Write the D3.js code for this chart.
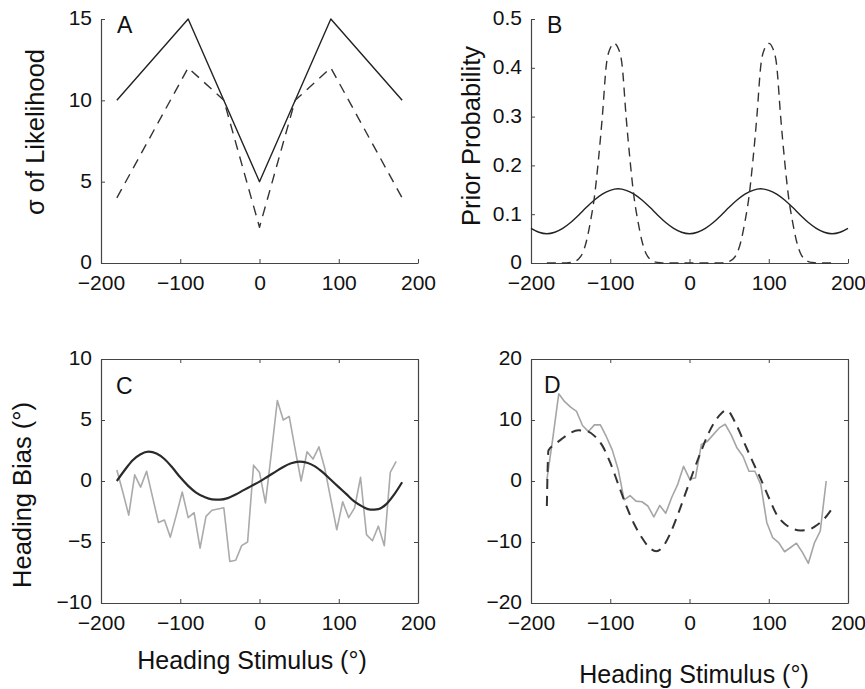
<!DOCTYPE html>
<html>
<head>
<meta charset="UTF-8">
<title>Heading bias figure</title>
<script src="https://cdn.jsdelivr.net/npm/d3@7"></script>
<style>
  body { margin: 0; background: #fff; }
  text { font-family: "Liberation Sans", Arial, sans-serif; fill: #111; }
</style>
</head>
<body>
<script>
// ---- panel A: sigma of likelihood
var aX = [-180, -90, 0, 90, 180];
var aSolid = [10, 15, 5, 15, 10];
var aDashX = [-180, -90, -45, 0, 45, 90, 180];
var aDash = [4, 12, 10, 2.2, 10, 12, 4];

// ---- panel B: prior probability
var bSolidX = d3.range(-200, 201, 10);
var bSolid = [0.071, 0.063, 0.060, 0.063, 0.071, 0.083, 0.098, 0.114, 0.129, 0.141, 0.149,
              0.152, 0.149, 0.141, 0.129, 0.114, 0.098, 0.083, 0.071, 0.063, 0.060,
              0.063, 0.071, 0.083, 0.098, 0.114, 0.129, 0.141, 0.149, 0.152, 0.149,
              0.141, 0.129, 0.114, 0.098, 0.083, 0.071, 0.063, 0.060, 0.063, 0.071];
var bDashX = d3.range(-180, 181, 5);
var bDash = [0, 0, 0, 0, 0, 0, 0.001, 0.003, 0.008, 0.02, 0.045, 0.085, 0.135, 0.21, 0.30, 0.405, 0.44,
             0.45,
             0.44, 0.405, 0.30, 0.21, 0.135, 0.085, 0.045, 0.02, 0.008, 0.003, 0.001, 0,
             0, 0, 0, 0, 0, 0, 0, 0, 0, 0, 0, 0, 0, 0,
             0, 0.001, 0.003, 0.008, 0.02, 0.045, 0.085, 0.135, 0.21, 0.30, 0.405, 0.44,
             0.45,
             0.44, 0.405, 0.30, 0.21, 0.135, 0.085, 0.045, 0.02, 0.008, 0.003, 0.001, 0, 0, 0, 0, 0, 0];

// ---- panel C: heading bias, data (gray) and model (dark)
var stimX = d3.range(-180, 173, 7.5);
var cData = [0.9, -0.9, -2.8, 0.5, -0.5, 0.8, -1.3, -3.4, -3.2, -4.6, -2.8, -0.9, -3.0, -2.6, -5.5, -2.9,
             -2.4, -2.3, -2.2, -6.6, -6.5, -5.3, -5.0, 1.3, 0.7, -1.8, 2.3, 6.6, 5.0, 5.3, 2.6, 0.0,
             2.4, 1.8, 2.8, 1.0, -1.5, -4.0, -1.7, -3.0, -2.2, 0.3, -4.4, -4.9, -3.7, -5.3, 0.7, 1.6];
var cModelX = d3.range(-180, 181, 10);
var cModel = [0, 0.9, 1.7, 2.2, 2.4, 2.25, 1.8, 1.1, 0.3, -0.4, -0.95, -1.3, -1.5, -1.52, -1.4, -1.1, -0.75, -0.4,
              -0.05, 0.35, 0.75, 1.15, 1.45, 1.58, 1.5, 1.2, 0.7, 0.1, -0.5, -1.1, -1.7, -2.1, -2.35, -2.3, -1.9, -1.1, -0.1];

// ---- panel D
var dData = [0.2, 7.0, 14.3, 13.0, 12.1, 11.4, 9.1, 8.1, 9.2, 9.2, 7.3, 5.1, 1.9, -3.1, -2.4, -3.3,
             -3.4, -4.1, -5.9, -4.0, -5.3, -2.7, -0.6, 2.4, 0.35, 0.5, 6.0, 6.5, 7.6, 8.7, 9.3, 7.6,
             5.4, 4.05, 1.6, 1.6, -0.6, -6.8, -9.3, -10.1, -11.6, -10.9, -10.2, -11.7, -13.5, -10.2, -8.2, 0];
var dModelX = [-180, -178, -170, -160, -150, -140, -130, -120, -110, -100, -90, -80, -70, -60, -50, -42, -35,
               -25, -15, -5, 5, 15, 25, 35, 47, 58, 70, 80, 90, 100, 110, 120, 130, 140, 150, 160, 170, 180];
var dModel = [-4.1, 5.0, 6.0, 7.0, 7.9, 8.3, 8.2, 7.4, 5.8, 3.0, -0.5, -4.0, -7.0, -9.3, -11.0, -11.5, -11.0,
              -8.8, -5.6, -2.0, 1.6, 5.0, 8.1, 10.3, 11.6, 9.5, 6.0, 3.1, 0.3, -2.7, -5.5, -7.0, -7.8, -8.1, -8.0, -7.3, -6.2, -4.5];

var xTicks = [-200, -100, 0, 100, 200];

var svg = d3.select("body").append("svg")
  .attr("width", 865)
  .attr("height", 689);
svg.append("rect").attr("width", 865).attr("height", 689).attr("fill", "#fff");

var fmt = d3.format("");

function panel(opt) {
  var x = d3.scaleLinear().domain([-200, 200]).range([opt.left, opt.left + 317]);
  var y = d3.scaleLinear().domain(opt.yDomain).range([opt.top + 244, opt.top]);
  var g = svg.append("g");

  g.append("g").attr("transform", "translate(0," + (opt.top + 244) + ")")
    .call(d3.axisBottom(x).tickValues(xTicks).tickFormat(fmt).tickSizeInner(-4).tickSizeOuter(0).tickPadding(12));
  g.append("g").attr("transform", "translate(" + opt.left + ",0)")
    .call(d3.axisLeft(y).tickValues(opt.yTicks).tickFormat(fmt).tickSizeInner(-4).tickSizeOuter(0).tickPadding(9))
    .selectAll(".tick text").attr("dy", "0.28em");
  if (opt.box) {
    g.append("g").attr("transform", "translate(0," + opt.top + ")")
      .call(d3.axisTop(x).tickValues(xTicks).tickFormat("").tickSizeInner(-4).tickSizeOuter(0));
    g.append("g").attr("transform", "translate(" + (opt.left + 317) + ",0)")
      .call(d3.axisRight(y).tickValues(opt.yTicks).tickFormat("").tickSizeInner(-4).tickSizeOuter(0));
  }
  g.selectAll(".domain").attr("stroke", "#444").attr("stroke-width", 1.2);
  g.selectAll(".tick line").attr("stroke", "#444");
  g.selectAll(".tick text").attr("font-size", 21).attr("fill", "#111")
    .style("font-family", "'Liberation Sans', Arial, sans-serif");

  opt.lines.forEach(function (l) {
    var line = d3.line()
      .x(function (d) { return x(d[0]); })
      .y(function (d) { return y(d[1]); })
      .curve(l.curve || d3.curveLinear);
    g.append("path")
      .datum(d3.zip(l.xs, l.ys))
      .attr("d", line)
      .attr("fill", "none")
      .attr("stroke", l.color)
      .attr("stroke-width", l.width)
      .attr("stroke-dasharray", l.dash || null)
      .attr("stroke-linejoin", "round");
  });

  g.append("text").attr("x", opt.letter[0]).attr("y", opt.letter[1])
    .attr("font-size", 23).text(opt.name);
  return { x: x, y: y };
}

panel({
  name: "A", left: 101, top: 19, yDomain: [0, 15], yTicks: [0, 5, 10, 15], letter: [117, 33],
  lines: [
    { xs: aX, ys: aSolid, color: "#222", width: 1.4 },
    { xs: aDashX, ys: aDash, color: "#333", width: 1.4, dash: "10,7" }
  ]
});

panel({
  name: "B", left: 531, top: 19, yDomain: [0, 0.5], yTicks: [0, 0.1, 0.2, 0.3, 0.4, 0.5], letter: [547, 33],
  lines: [
    { xs: bSolidX, ys: bSolid, color: "#222", width: 1.4, curve: d3.curveMonotoneX },
    { xs: bDashX, ys: bDash, color: "#333", width: 1.4, dash: "9,6", curve: d3.curveMonotoneX }
  ]
});

panel({
  name: "C", left: 101, top: 359, yDomain: [-10, 10], yTicks: [-10, -5, 0, 5, 10], letter: [116, 394], box: true,
  lines: [
    { xs: stimX, ys: cData, color: "#aaa", width: 1.6 },
    { xs: cModelX, ys: cModel, color: "#2a2a2a", width: 2.2, curve: d3.curveMonotoneX }
  ]
});

panel({
  name: "D", left: 531, top: 359, yDomain: [-20, 20], yTicks: [-20, -10, 0, 10, 20], letter: [544, 393], box: true,
  lines: [
    { xs: stimX, ys: dData, color: "#a5a5a5", width: 1.6 },
    { xs: dModelX, ys: dModel, color: "#333", width: 2, dash: "10,7", curve: d3.curveMonotoneX }
  ]
});

// axis titles
function vtitle(txt, x, y) {
  svg.append("text")
    .attr("transform", "translate(" + x + "," + y + ") rotate(-90)")
    .attr("text-anchor", "middle")
    .attr("font-size", 25.5)
    .text(txt);
}
vtitle("σ of Likelihood", 44, 132);
vtitle("Prior Probability", 480, 136);
vtitle("Heading Bias (°)", 31, 495);

svg.append("text").attr("x", 252).attr("y", 669).attr("text-anchor", "middle")
  .attr("font-size", 25).text("Heading Stimulus (°)");
svg.append("text").attr("x", 694).attr("y", 683).attr("text-anchor", "middle")
  .attr("font-size", 25).text("Heading Stimulus (°)");
</script>
</body>
</html>
